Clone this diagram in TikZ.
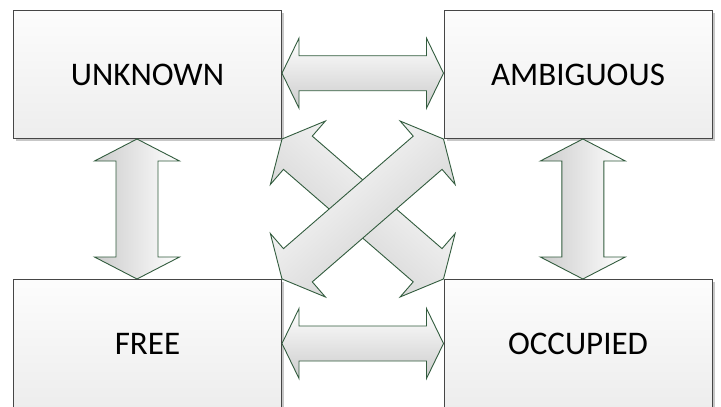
\documentclass[tikz,border=0pt]{standalone}
\usepackage{fontspec}
\setmainfont{Carlito}
\usetikzlibrary{calc,shadows}
\definecolor{arrline}{RGB}{50,92,62}
\definecolor{boxline}{RGB}{70,70,70}
\tikzset{
  statebox/.style={rectangle, draw=boxline, line width=1pt, top color=black!1, bottom color=black!7,
    minimum width=268pt, minimum height=128pt, inner sep=0pt,
    font=\fontsize{33}{39}\selectfont,
    drop shadow={shadow xshift=2.5pt, shadow yshift=-2.5pt, fill=black!22, opacity=1}},
  fatarrow/.style={draw=arrline, line width=0.9pt, line join=miter, top color=white, bottom color=black!20}
}
\newcommand\fatarr[6]{% #1 A, #2 B, #3 shaft half width, #4 head half width, #5 head length, #6 shading angle
  \coordinate (fa-d) at ($(#1)!#5pt!(#2)$);
  \coordinate (fa-c) at ($(#2)!#5pt!(#1)$);
  \shade[fatarrow, shading angle=#6] (#1)
    -- ($(fa-d)!#4pt!90:(#2)$) -- ($(fa-d)!#3pt!90:(#2)$)
    -- ($(fa-c)!#3pt!90:(#2)$) -- ($(fa-c)!#4pt!90:(#2)$)
    -- (#2)
    -- ($(fa-c)!#4pt!-90:(#2)$) -- ($(fa-c)!#3pt!-90:(#2)$)
    -- ($(fa-d)!#3pt!-90:(#2)$) -- ($(fa-d)!#4pt!-90:(#2)$)
    -- cycle;
}
\begin{document}
\begin{tikzpicture}[x=1pt,y=-1pt]
\useasboundingbox (0,0) rectangle (721,407);
\fill[white] (0,0) rectangle (721,407);
\node[statebox] (unk)  at (147.5,74.5)  {UNKNOWN};
\node[statebox] (amb)  at (578,74.5)    {AMBIGUOUS};
\node[statebox] (free) at (147.5,343.5) {FREE};
\node[statebox] (occ)  at (578,343.5)   {OCCUPIED};
\coordinate (lva) at ($(unk.south west)!0.461!(unk.south east)$);
\coordinate (lvb) at ($(free.north west)!0.461!(free.north east)$);
\coordinate (rva) at ($(amb.south west)!0.518!(amb.south east)$);
\coordinate (rvb) at ($(occ.north west)!0.518!(occ.north east)$);
\coordinate (tha) at ($(unk.north east)!0.49!(unk.south east)$);
\coordinate (thb) at ($(amb.north west)!0.49!(amb.south west)$);
% horizontal arrows
\fatarr{tha}{thb}{17.5}{35}{17}{0}
\fatarr{free.east}{occ.west}{17.5}{35}{17}{0}
% vertical arrows
\fatarr{lva}{lvb}{21}{42.5}{22}{-90}
\fatarr{rva}{rvb}{21}{42.5}{22}{-90}
% diagonal arrows
\fatarr{unk.south east}{occ.north west}{22}{42}{21}{-41}
\fatarr{free.north east}{amb.south west}{22}{42}{21}{41}
\end{tikzpicture}
\end{document}
